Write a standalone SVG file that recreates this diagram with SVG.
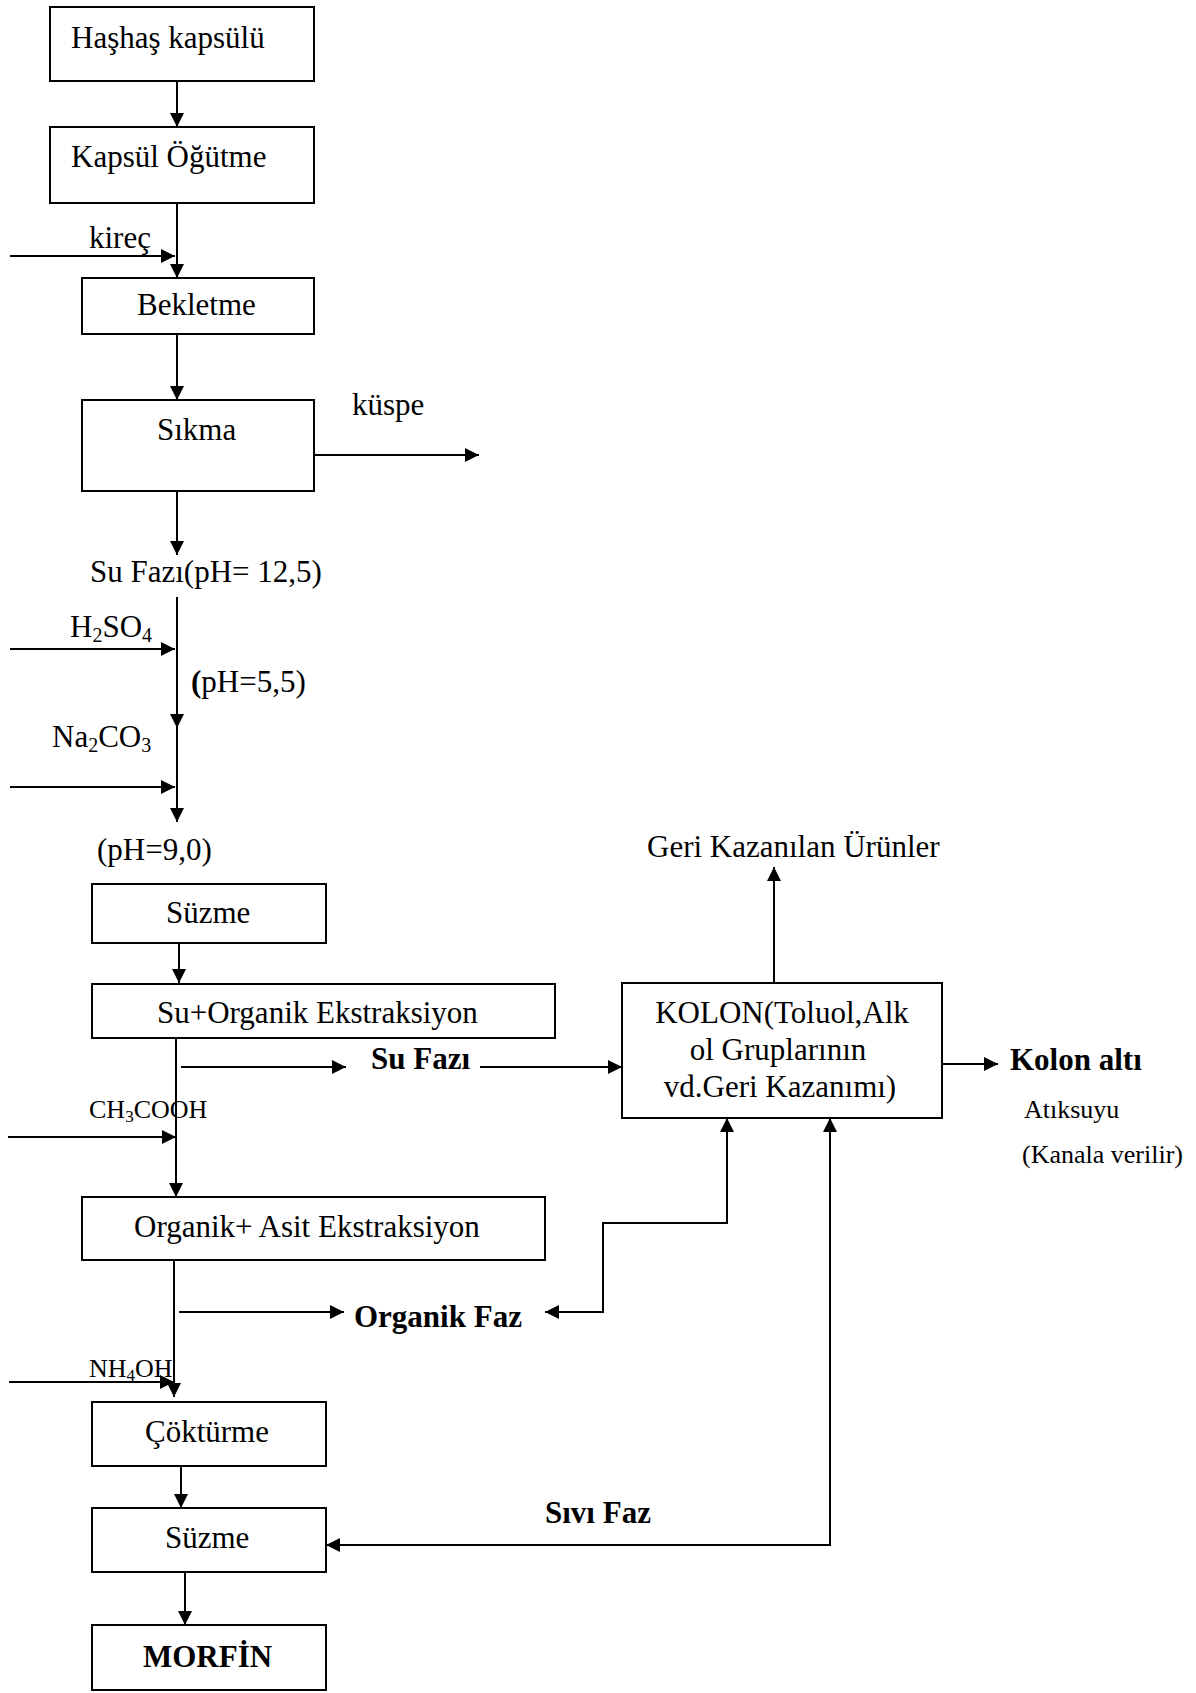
<svg xmlns="http://www.w3.org/2000/svg" width="1196" height="1693" viewBox="0 0 1196 1693">
<defs>
<style>
.box{fill:#fff;stroke:#000;stroke-width:2}
.t{font-family:"Liberation Serif","Times New Roman",serif;font-size:31px;fill:#000}
.b{font-weight:bold}
.s{font-size:26px}
.c line,.c path{stroke:#000;stroke-width:2;fill:none}
.a{marker-end:url(#ah)}
</style>
<marker id="ah" markerUnits="userSpaceOnUse" markerWidth="15" markerHeight="15" refX="14" refY="7" orient="auto">
<path d="M0,0 L14,7 L0,14 z" fill="#000"/>
</marker>
</defs>
<rect width="1196" height="1693" fill="#fff"/>

<g id="connectors" class="c">
<line class="a" x1="177" y1="81" x2="177" y2="127"/>
<line class="a" x1="177" y1="203" x2="177" y2="278"/>
<line class="a" x1="10" y1="256" x2="175" y2="256"/>
<line class="a" x1="177" y1="334" x2="177" y2="400"/>
<line class="a" x1="314" y1="455" x2="479" y2="455"/>
<line class="a" x1="177" y1="491" x2="177" y2="555"/>
<line class="a" x1="177" y1="597" x2="177" y2="728"/>
<line class="a" x1="177" y1="726" x2="177" y2="822"/>
<line class="a" x1="10" y1="649" x2="175" y2="649"/>
<line class="a" x1="10" y1="787" x2="175" y2="787"/>
<line class="a" x1="179" y1="943" x2="179" y2="983"/>
<line class="a" x1="176" y1="1038" x2="176" y2="1197"/>
<line class="a" x1="181" y1="1067" x2="346" y2="1067"/>
<line class="a" x1="480" y1="1067" x2="622" y2="1067"/>
<line class="a" x1="8" y1="1137" x2="176" y2="1137"/>
<line class="a" x1="774" y1="983" x2="774" y2="867"/>
<line class="a" x1="942" y1="1064" x2="998" y2="1064"/>
<line class="a" x1="174" y1="1260" x2="174" y2="1397"/>
<line class="a" x1="179" y1="1312" x2="344" y2="1312"/>
<path class="a" d="M603,1312 V1223 H727 V1118"/>
<line class="a" x1="604" y1="1312" x2="545" y2="1312"/>
<line class="a" x1="9" y1="1382" x2="174" y2="1382"/>
<line class="a" x1="181" y1="1466" x2="181" y2="1508"/>
<path class="a" d="M830,1546 V1118"/>
<line class="a" x1="831" y1="1545" x2="326" y2="1545"/>
<line class="a" x1="185" y1="1572" x2="185" y2="1625"/>
</g>

<g id="n1"><rect class="box" x="50" y="7" width="264" height="74"/><text class="t" x="71" y="48">Haşhaş kapsülü</text></g>
<g id="n2"><rect class="box" x="50" y="127" width="264" height="76"/><text class="t" x="71" y="167">Kapsül Öğütme</text></g>
<g id="n3"><rect class="box" x="82" y="278" width="232" height="56"/><text class="t" x="137" y="315">Bekletme</text></g>
<g id="n4"><rect class="box" x="82" y="400" width="232" height="91"/><text class="t" x="157" y="440">Sıkma</text></g>
<g id="n5"><rect class="box" x="92" y="884" width="234" height="59"/><text class="t" x="166" y="923">Süzme</text></g>
<g id="n6"><rect class="box" x="92" y="984" width="463" height="54"/><text class="t" x="157" y="1023">Su+Organik Ekstraksiyon</text></g>
<g id="n7"><rect class="box" x="82" y="1197" width="463" height="63"/><text class="t" x="134" y="1237">Organik+ Asit Ekstraksiyon</text></g>
<g id="n8"><rect class="box" x="92" y="1402" width="234" height="64"/><text class="t" x="145" y="1442">Çöktürme</text></g>
<g id="n9"><rect class="box" x="92" y="1508" width="234" height="64"/><text class="t" x="165" y="1548">Süzme</text></g>
<g id="n10"><rect class="box" x="92" y="1625" width="234" height="65"/><text class="t b" x="143" y="1667">MORFİN</text></g>
<g id="n11"><rect class="box" x="622" y="983" width="320" height="135"/>
<text class="t" x="782" y="1023" text-anchor="middle">KOLON(Toluol,Alk</text>
<text class="t" x="778" y="1060" text-anchor="middle">ol Gruplarının</text>
<text class="t" x="780" y="1097" text-anchor="middle">vd.Geri Kazanımı)</text></g>

<g id="labels">
<text class="t" x="89" y="248">kireç</text>
<text class="t" x="352" y="415">küspe</text>
<text class="t" x="90" y="582">Su Fazı(pH= 12,5)</text>
<text class="t" x="70" y="637">H<tspan font-size="20" dy="5">2</tspan><tspan dy="-5">SO</tspan><tspan font-size="20" dy="5">4</tspan></text>
<text class="t" x="191" y="692"><tspan class="b">(</tspan>pH=5,5)</text>
<text class="t" x="52" y="747">Na<tspan font-size="20" dy="5">2</tspan><tspan dy="-5">CO</tspan><tspan font-size="20" dy="5">3</tspan></text>
<text class="t" x="97" y="860">(pH=9,0)</text>
<text class="t" x="647" y="857">Geri Kazanılan Ürünler</text>
<text class="t b" x="371" y="1069">Su Fazı</text>
<text class="t s" x="89" y="1118">CH<tspan font-size="17" dy="4">3</tspan><tspan dy="-4">COOH</tspan></text>
<text class="t b" x="354" y="1327">Organik Faz</text>
<text class="t s" x="89" y="1377">NH<tspan font-size="17" dy="4">4</tspan><tspan dy="-4">OH</tspan></text>
<text class="t b" x="545" y="1523">Sıvı Faz</text>
<text class="t b" x="1010" y="1070">Kolon altı</text>
<text class="t s" x="1024" y="1118">Atıksuyu</text>
<text class="t s" x="1022" y="1163">(Kanala verilir)</text>
</g>
</svg>
